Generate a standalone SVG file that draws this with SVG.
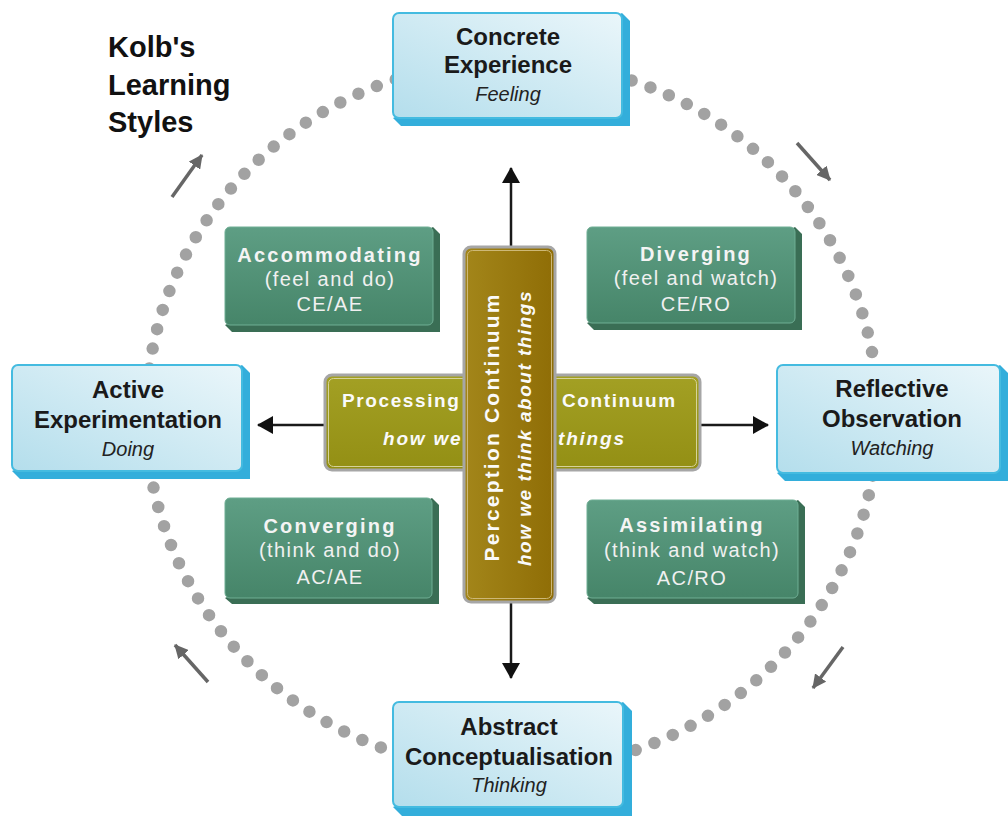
<svg xmlns="http://www.w3.org/2000/svg" width="1008" height="818" viewBox="0 0 1008 818">
<defs>
<linearGradient id="gBlue" x1="1" y1="0" x2="0" y2="1">
<stop offset="0" stop-color="#eaf6fa"/>
<stop offset="1" stop-color="#b4deec"/>
</linearGradient>
<linearGradient id="gGreen" x1="0" y1="0" x2="0" y2="1">
<stop offset="0" stop-color="#5e9e84"/>
<stop offset="1" stop-color="#468569"/>
</linearGradient>
<linearGradient id="gOlive" x1="0" y1="0" x2="0" y2="1">
<stop offset="0" stop-color="#a3a024"/>
<stop offset="1" stop-color="#938f14"/>
</linearGradient>
<linearGradient id="gGold" x1="0" y1="0" x2="1" y2="0">
<stop offset="0" stop-color="#a3861a"/>
<stop offset="1" stop-color="#8f6d06"/>
</linearGradient>
<marker id="ah" viewBox="0 0 16 18" refX="15" refY="9" markerWidth="16" markerHeight="18" markerUnits="userSpaceOnUse" orient="auto">
<path d="M0,0 L16,9 L0,18 z" fill="#111"/>
</marker>
<marker id="ahg" viewBox="0 0 14 14" refX="13" refY="7" markerWidth="14" markerHeight="14" markerUnits="userSpaceOnUse" orient="auto">
<path d="M0,0 L14,7 L0,14 z" fill="#666"/>
</marker>
</defs>
<style>
.bface{fill:url(#gBlue);stroke:#44bbe0;stroke-width:2}
.bdepth{fill:#33aedb}
.gface{fill:url(#gGreen);stroke:#6fae94;stroke-width:1}
.gdepth{fill:#3a6e55}
.bt{font-family:"Liberation Sans",Arial,sans-serif;font-weight:bold;font-size:24px;fill:#1a1a1a;text-anchor:middle}
.bi{font-family:"Liberation Sans",Arial,sans-serif;font-style:italic;font-size:20px;fill:#222;text-anchor:middle}
.gt{font-family:"Liberation Sans",Arial,sans-serif;font-weight:bold;font-size:20px;fill:#f4f4f4;text-anchor:middle;letter-spacing:2.2px}
.gs{font-family:"Liberation Sans",Arial,sans-serif;font-size:20px;fill:#f0f0f0;text-anchor:middle;letter-spacing:1.4px}
.ct{font-family:"Liberation Sans",Arial,sans-serif;font-weight:bold;font-size:19px;fill:#fafafa;letter-spacing:1.6px}
.ci{font-family:"Liberation Sans",Arial,sans-serif;font-weight:bold;font-style:italic;font-size:19px;fill:#fafafa;letter-spacing:1.8px}
.title{font-family:"Liberation Sans",Arial,sans-serif;font-weight:bold;font-size:29px;fill:#111}
.conn{stroke:#1a1a1a;stroke-width:2.5;fill:none;marker-end:url(#ah)}
.gconn{stroke:#666;stroke-width:3.5;fill:none;marker-end:url(#ahg)}
</style>
<rect width="1008" height="818" fill="#ffffff"/>

<g id="cycle">
<ellipse cx="512" cy="416" rx="366" ry="355" fill="none" stroke="#a2a2a2" stroke-width="12.5" stroke-linecap="round" stroke-dasharray="0 20"/>
</g>

<g id="title">
<text class="title" x="108" y="57">Kolb's</text>
<text class="title" x="108" y="95">Learning</text>
<text class="title" x="108" y="132">Styles</text>
</g>

<g id="connectors">
<line class="conn" x1="511" y1="247" x2="511" y2="168"/>
<line class="conn" x1="511" y1="602" x2="511" y2="678"/>
<line class="conn" x1="325" y1="425" x2="258" y2="425"/>
<line class="conn" x1="700" y1="425" x2="768" y2="425"/>
<line class="gconn" x1="172" y1="197" x2="202" y2="155"/>
<line class="gconn" x1="797" y1="143" x2="830" y2="180"/>
<line class="gconn" x1="843" y1="647" x2="813" y2="688"/>
<line class="gconn" x1="208" y1="682" x2="175" y2="645"/>
</g>

<g id="concrete-experience">
<path class="bdepth" d="M622,13 L630,21 L630,126 L401,126 L393,118 Z"/>
<rect class="bface" x="393" y="13" width="229" height="105" rx="6"/>
<text class="bt" x="508" y="45">Concrete</text>
<text class="bt" x="508" y="73">Experience</text>
<text class="bi" x="508" y="101">Feeling</text>
</g>

<g id="active-experimentation">
<path class="bdepth" d="M242,365 L250,373 L250,479 L20,479 L12,471 Z"/>
<rect class="bface" x="12" y="365" width="230" height="106" rx="6"/>
<text class="bt" x="128" y="398">Active</text>
<text class="bt" x="128" y="428">Experimentation</text>
<text class="bi" x="128" y="456">Doing</text>
</g>

<g id="reflective-observation">
<path class="bdepth" d="M1000,365 L1008,373 L1008,481 L785,481 L777,473 Z"/>
<rect class="bface" x="777" y="365" width="223" height="108" rx="6"/>
<text class="bt" x="892" y="397">Reflective</text>
<text class="bt" x="892" y="427">Observation</text>
<text class="bi" x="892" y="455">Watching</text>
</g>

<g id="abstract-conceptualisation">
<path class="bdepth" d="M623,702 L632,711 L632,816 L402,816 L393,807 Z"/>
<rect class="bface" x="393" y="702" width="230" height="105" rx="6"/>
<text class="bt" x="509" y="735">Abstract</text>
<text class="bt" x="509" y="765">Conceptualisation</text>
<text class="bi" x="509" y="792">Thinking</text>
</g>

<g id="accommodating">
<path class="gdepth" d="M433,227 L440,234 L440,332 L232,332 L225,325 Z"/>
<rect class="gface" x="225" y="227" width="208" height="98" rx="5"/>
<text class="gt" x="330" y="262">Accommodating</text>
<text class="gs" x="330" y="286">(feel and do)</text>
<text class="gs" x="330" y="311">CE/AE</text>
</g>

<g id="diverging">
<path class="gdepth" d="M795,227 L802,234 L802,330 L594,330 L587,323 Z"/>
<rect class="gface" x="587" y="227" width="208" height="96" rx="5"/>
<text class="gt" x="696" y="261">Diverging</text>
<text class="gs" x="696" y="285">(feel and watch)</text>
<text class="gs" x="696" y="311">CE/RO</text>
</g>

<g id="converging">
<path class="gdepth" d="M432,498 L439,505 L439,604 L232,604 L225,598 Z"/>
<rect class="gface" x="225" y="498" width="207" height="100" rx="5"/>
<text class="gt" x="330" y="533">Converging</text>
<text class="gs" x="330" y="557">(think and do)</text>
<text class="gs" x="330" y="584">AC/AE</text>
</g>

<g id="assimilating">
<path class="gdepth" d="M798,500 L805,507 L805,604 L594,604 L587,598 Z"/>
<rect class="gface" x="587" y="500" width="211" height="98" rx="5"/>
<text class="gt" x="692" y="532">Assimilating</text>
<text class="gs" x="692" y="557">(think and watch)</text>
<text class="gs" x="692" y="585">AC/RO</text>
</g>

<g id="processing-continuum">
<rect x="325" y="375" width="375" height="95" rx="7" fill="url(#gOlive)" stroke="#a6a6a6" stroke-width="3"/>
<rect x="328.5" y="378.5" width="368" height="88" rx="5" fill="none" stroke="#d6d39a" stroke-width="1"/>
<text class="ct" x="342" y="407">Processing</text>
<text class="ct" x="562" y="407">Continuum</text>
<text class="ci" x="383" y="445">how we</text>
<text class="ci" x="558" y="445">things</text>
</g>

<g id="perception-continuum">
<rect x="464" y="247" width="91" height="355" rx="7" fill="url(#gGold)" stroke="#a6a6a6" stroke-width="3"/>
<rect x="467.5" y="250.5" width="84" height="348" rx="5" fill="none" stroke="#cdb877" stroke-width="1"/>
<text class="ct" transform="translate(499,427) rotate(-90)" x="0" y="0" text-anchor="middle" style="font-size:21px;letter-spacing:2.2px">Perception Continuum</text>
<text class="ci" transform="translate(531,428) rotate(-90)" x="0" y="0" text-anchor="middle" style="letter-spacing:1.5px">how we think about things</text>
</g>
</svg>
